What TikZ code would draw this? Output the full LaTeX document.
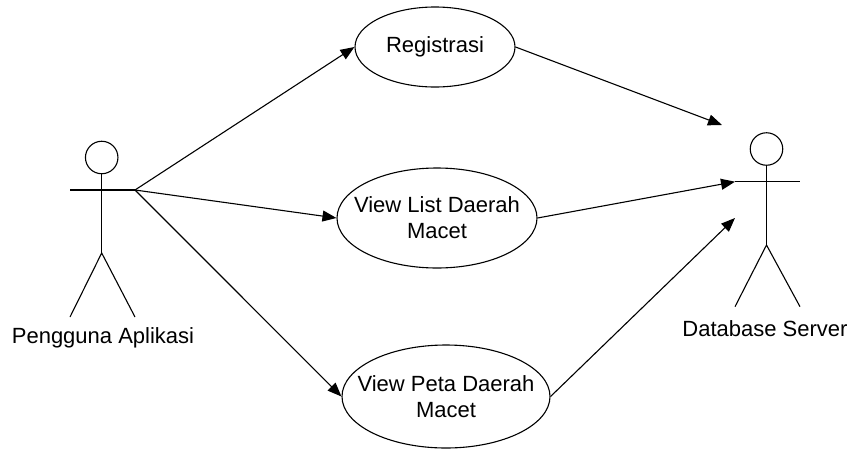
\documentclass[tikz,border=0pt]{standalone}
\usepackage{fontspec}
\setmainfont{Liberation Sans}
\usetikzlibrary{shapes.geometric,arrows.meta}
\begin{document}
\begin{tikzpicture}[x=1pt,y=-1pt,
  line/.style={draw=black,line width=1.1pt},
  usecase/.style={ellipse,line,inner sep=0pt},
  uctext/.style={inner sep=0pt,align=center,font=\fontsize{22}{26}\selectfont},
  head/.style={circle,line,inner sep=0pt,minimum size=32.5pt},
  actorlabel/.style={anchor=base,inner sep=0pt,font=\fontsize{22}{26}\selectfont},
  assoc/.style={line,-{Triangle[length=14pt,width=11pt]}}]
  \useasboundingbox (0,0) rectangle (854,450);

  % actor: Pengguna Aplikasi
  \node[head] (uhead) at (101.7,157.5) {};
  \coordinate (uarmL) at (70,190);
  \coordinate (uarmR) at (135,190);
  \coordinate (uhip) at (101.7,253);
  \coordinate (ulegL) at (70,317);
  \coordinate (ulegR) at (135,317);
  \draw[line] (uhead.south) -- (uhip);
  \draw[line] (uarmL) -- (uarmR);
  \draw[line] (ulegL) -- (uhip) -- (ulegR);
  \node[actorlabel] (ulabel) at (103,343) {Pengguna Aplikasi};

  % actor: Database Server
  \node[head] (shead) at (766.5,149) {};
  \coordinate (sarmL) at (735,181.7);
  \coordinate (sarmR) at (800,181.7);
  \coordinate (ship) at (766.5,245);
  \coordinate (slegL) at (735,306.7);
  \coordinate (slegR) at (800,306.7);
  \draw[line] (shead.south) -- (ship);
  \draw[line] (sarmL) -- (sarmR);
  \draw[line] (slegL) -- (ship) -- (slegR);
  \node[actorlabel] (slabel) at (765,336) {Database Server};

  % use cases: outline and caption
  \node[usecase,minimum width=160pt,minimum height=80pt] (reg) at (435,47) {};
  \node[uctext] (regtext) at (reg.center) {Registrasi};
  \node[usecase,minimum width=200pt,minimum height=100pt] (list) at (437,218) {};
  \node[uctext] (listtext) at (list.center) {View List Daerah\\Macet};
  \node[usecase,minimum width=208pt,minimum height=103pt] (peta) at (446,396.5) {};
  \node[uctext] (petatext) at (peta.center) {View Peta Daerah\\Macet};

  % arrow ends near the server actor
  \coordinate (sregend) at (722,125);
  \coordinate (spetaend) at (735,218);

  % associations
  \draw[assoc] (uarmR) -- (reg.west);
  \draw[assoc] (uarmR) -- (list.west);
  \draw[assoc] (uarmR) -- (peta.west);
  \draw[assoc] (reg.east) -- (sregend);
  \draw[assoc] (list.east) -- (sarmL);
  \draw[assoc] (peta.east) -- (spetaend);
\end{tikzpicture}
\end{document}
